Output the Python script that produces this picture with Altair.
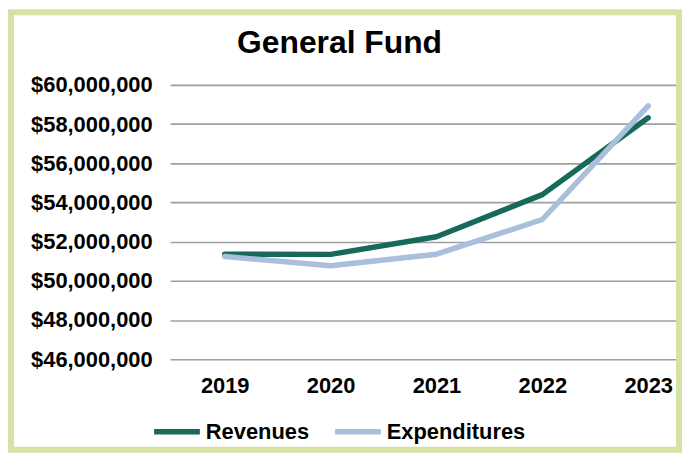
import altair as alt
import pandas as pd

years = [2019, 2020, 2021, 2022, 2023]
revenues = [51360000, 51350000, 52250000, 54400000, 58320000]
expenditures = [51240000, 50770000, 51360000, 53130000, 58930000]
series_names = ["Revenues", "Expenditures"]
series_colors = ["#17695a", "#a9bfdb"]
y_ticks = [46000000, 48000000, 50000000, 52000000, 54000000, 56000000, 58000000, 60000000]

rows = []
for name, vals in zip(series_names, [revenues, expenditures]):
    for yr, v in zip(years, vals):
        rows.append({"Year": yr, "Value": v, "Series": name})
df = pd.DataFrame(rows)

FONT = "Liberation Sans"
PLOT_W, PLOT_H = 511, 276
PAD_L, PAD_T, PAD_R, PAD_B = 163, 76, 4, 94

color = alt.Color(
    "Series:N",
    scale=alt.Scale(domain=series_names, range=series_colors),
    legend=alt.Legend(
        title=None,
        orient="none",
        direction="horizontal",
        legendX=-19,
        legendY=323,
        symbolType="stroke",
        symbolSize=2116,
        symbolStrokeWidth=5.5,
        labelFont=FONT,
        labelFontSize=22,
        labelFontWeight="bold",
        labelColor="#000000",
        labelOffset=3,
        columnPadding=15,
    ),
)

x = alt.X(
    "Year:Q",
    scale=alt.Scale(domain=[2018.4836, 2023.2817], nice=False, zero=False),
    axis=alt.Axis(
        title=None,
        values=years,
        format="d",
        labelAngle=0,
        domain=False,
        ticks=False,
        grid=False,
        labelFont=FONT,
        labelFontSize=22,
        labelFontWeight="bold",
        labelColor="#000000",
        labelPadding=16,
    ),
)
y = alt.Y(
    "Value:Q",
    scale=alt.Scale(domain=[46000000, 60000000], nice=False, zero=False),
    axis=alt.Axis(
        title=None,
        values=y_ticks,
        format="$,.0f",
        domain=False,
        ticks=False,
        grid=True,
        gridColor="#a0a0a0",
        gridWidth=1.6,
        labelFont=FONT,
        labelFontSize=22,
        labelFontWeight="bold",
        labelColor="#000000",
        labelPadding=18,
    ),
)

base = alt.Chart(df)
rev = base.transform_filter(alt.datum.Series == "Revenues").mark_line(
    strokeWidth=5.5, strokeCap="round", strokeJoin="round"
).encode(x=x, y=y, color=color)
exp = base.transform_filter(alt.datum.Series == "Expenditures").mark_line(
    strokeWidth=5.5, strokeCap="round", strokeJoin="round"
).encode(x=x, y=y, color=color)

frame = alt.Chart(pd.DataFrame({"a": [0]})).mark_rect(
    fillOpacity=0, stroke="#d6e2a5", strokeWidth=6
).encode(
    x=alt.value(-PAD_L + 3),
    x2=alt.value(PLOT_W + PAD_R - 3),
    y=alt.value(-PAD_T + 3),
    y2=alt.value(PLOT_H + PAD_B - 3),
)

chart = alt.layer(rev, exp, frame).properties(
    width=PLOT_W,
    height=PLOT_H,
    autosize=alt.AutoSizeParams(type="none"),
    padding={"left": PAD_L, "top": PAD_T, "right": PAD_R, "bottom": PAD_B},
    background="#ffffff",
    title=alt.Title(
        "General Fund",
        font=FONT,
        fontSize=32,
        fontWeight="bold",
        color="#000000",
        anchor="middle",
        dx=-85,
        dy=76,
        offset=0,
        baseline="alphabetic",
    ),
).configure_view(stroke=None)

chart.save("out.html", embed_options={"renderer": "svg", "actions": False})
